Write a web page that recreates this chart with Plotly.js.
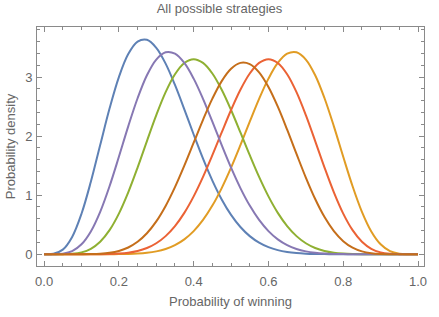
<!DOCTYPE html>
<html>
<head>
<meta charset="utf-8">
<script src="https://cdn.plot.ly/plotly-3.0.1.min.js"></script>
<style>html,body{margin:0;padding:0;background:#fff;}#chart{width:439px;height:317px;}</style>
</head>
<body>
<div id="chart"></div>
<script>
// Probability of winning (x samples)
const xValues = [0, 0.025, 0.05, 0.075, 0.1, 0.125, 0.15, 0.175, 0.2, 0.225, 0.25, 0.275, 0.3, 0.325, 0.35, 0.375, 0.4, 0.425, 0.45, 0.475, 0.5, 0.525, 0.55, 0.575, 0.6, 0.625, 0.65, 0.675, 0.7, 0.725, 0.75, 0.775, 0.8, 0.825, 0.85, 0.875, 0.9, 0.925, 0.95, 0.975, 1];

// Probability density of each strategy
const blueSeries = [0, 0.0065, 0.0776, 0.2931, 0.6854, 1.2273, 1.8502, 2.4685, 3.0017, 3.3915, 3.6032, 3.6340, 3.4980, 3.2296, 2.8680, 2.4550, 2.0284, 1.6187, 1.2476, 0.9285, 0.6665, 0.4608, 0.3062, 0.1951, 0.1187, 0.0687, 0.0376, 0.0194, 0.0093, 0.0041, 0.0016, 0.0006, 0.0002, 0, 0, 0, 0, 0, 0, 0, 0];
const purpleSeries = [0, 0.0004, 0.0090, 0.0523, 0.1675, 0.3857, 0.7183, 1.1520, 1.6509, 2.1662, 2.6423, 3.0325, 3.2981, 3.4210, 3.3974, 3.2406, 2.9750, 2.6321, 2.2457, 1.8481, 1.4663, 1.1205, 0.8234, 0.5806, 0.3918, 0.2520, 0.1538, 0.0885, 0.0477, 0.0238, 0.0109, 0.0045, 0.0016, 0.0005, 0.0001, 0, 0, 0, 0, 0, 0];
const greenSeries = [0, 0, 0.0008, 0.0071, 0.0310, 0.0918, 0.2113, 0.4073, 0.6879, 1.0481, 1.4680, 1.9171, 2.3558, 2.7452, 3.0490, 3.2406, 3.3056, 3.2424, 3.0624, 2.7869, 2.4439, 2.0641, 1.6773, 1.3093, 0.9794, 0.7000, 0.4760, 0.3064, 0.1854, 0.1046, 0.0544, 0.0257, 0.0107, 0.0039, 0.0012, 0.0003, 0, 0, 0, 0, 0];
const brownSeries = [0, 0, 0, 0.0001, 0.0005, 0.0024, 0.0085, 0.0236, 0.0553, 0.1136, 0.2097, 0.3546, 0.5563, 0.8182, 1.1366, 1.4999, 1.8889, 2.2775, 2.6357, 2.9331, 3.1421, 3.2419, 3.2215, 3.0813, 2.8334, 2.4999, 2.1108, 1.6994, 1.2981, 0.9349, 0.6291, 0.3912, 0.2211, 0.1111, 0.0479, 0.0169, 0.0044, 0.0007, 0.0001, 0, 0];
const redSeries = [0, 0, 0, 0, 0, 0.0003, 0.0012, 0.0039, 0.0107, 0.0257, 0.0544, 0.1046, 0.1854, 0.3064, 0.4760, 0.7000, 0.9794, 1.3093, 1.6773, 2.0641, 2.4439, 2.7869, 3.0624, 3.2424, 3.3056, 3.2406, 3.0490, 2.7452, 2.3558, 1.9171, 1.4680, 1.0481, 0.6879, 0.4073, 0.2113, 0.0918, 0.0310, 0.0071, 0.0008, 0, 0];
const orangeSeries = [0, 0, 0, 0, 0, 0, 0.0001, 0.0005, 0.0016, 0.0045, 0.0109, 0.0238, 0.0477, 0.0885, 0.1538, 0.2520, 0.3918, 0.5806, 0.8234, 1.1205, 1.4663, 1.8481, 2.2457, 2.6321, 2.9750, 3.2406, 3.3974, 3.4210, 3.2981, 3.0325, 2.6423, 2.1662, 1.6509, 1.1520, 0.7183, 0.3857, 0.1675, 0.0523, 0.0090, 0.0004, 0];

const xTickValues = [0, 0.2, 0.4, 0.6, 0.8, 1.0];
const xTickLabels = ["0.0", "0.2", "0.4", "0.6", "0.8", "1.0"];
const yTickValues = [0, 1, 2, 3];
const yTickLabels = ["0", "1", "2", "3"];

const seriesList = [
  {y: blueSeries, color: "#5E81B5"},
  {y: orangeSeries, color: "#E19C24"},
  {y: greenSeries, color: "#8FB032"},
  {y: redSeries, color: "#EB6235"},
  {y: purpleSeries, color: "#8778B3"},
  {y: brownSeries, color: "#C56E1A"}
];

const traces = seriesList.map(s => ({
  x: xValues, y: s.y, type: "scatter", mode: "lines",
  line: {color: s.color, width: 2, shape: "spline", smoothing: 1},
  hoverinfo: "skip", showlegend: false
}));

const textColor = "#666666";
const frameColor = "#8a8a8a";
const font = {family: "Liberation Sans, Arial, sans-serif", size: 13, color: textColor};

const layout = {
  width: 439, height: 317,
  margin: {l: 37, r: 15, t: 27, b: 51},
  paper_bgcolor: "#ffffff", plot_bgcolor: "#ffffff",
  font: font,
  title: {text: "All possible strategies", font: font, x: 0.5, xanchor: "center", y: 0.972, yanchor: "middle", yref: "container"},
  xaxis: {
    range: [-0.019, 1.016], showgrid: false, zeroline: false,
    showline: true, linecolor: frameColor, linewidth: 1, mirror: "ticks",
    ticks: "inside", ticklen: 5, tickcolor: frameColor, tickwidth: 1,
    tickvals: xTickValues, ticktext: xTickLabels, tickfont: font, ticklabelstandoff: 3,
    minor: {dtick: 0.05, tick0: 0, ticks: "inside", ticklen: 3, tickcolor: frameColor, showgrid: false},
    title: {text: "Probability of winning", font: font, standoff: 9},
    automargin: false
  },
  yaxis: {
    range: [-0.2, 3.85], showgrid: false, zeroline: false,
    showline: true, linecolor: frameColor, linewidth: 1, mirror: "ticks",
    ticks: "inside", ticklen: 5, tickcolor: frameColor, tickwidth: 1,
    tickvals: yTickValues, ticktext: yTickLabels, tickfont: font, ticklabelstandoff: 1,
    minor: {dtick: 0.2, tick0: 0, ticks: "inside", ticklen: 3, tickcolor: frameColor, showgrid: false},
    title: {text: "Probability density", font: font, standoff: 6},
    automargin: false
  }
};

Plotly.newPlot("chart", traces, layout, {staticPlot: true, displayModeBar: false});
</script>
</body>
</html>
